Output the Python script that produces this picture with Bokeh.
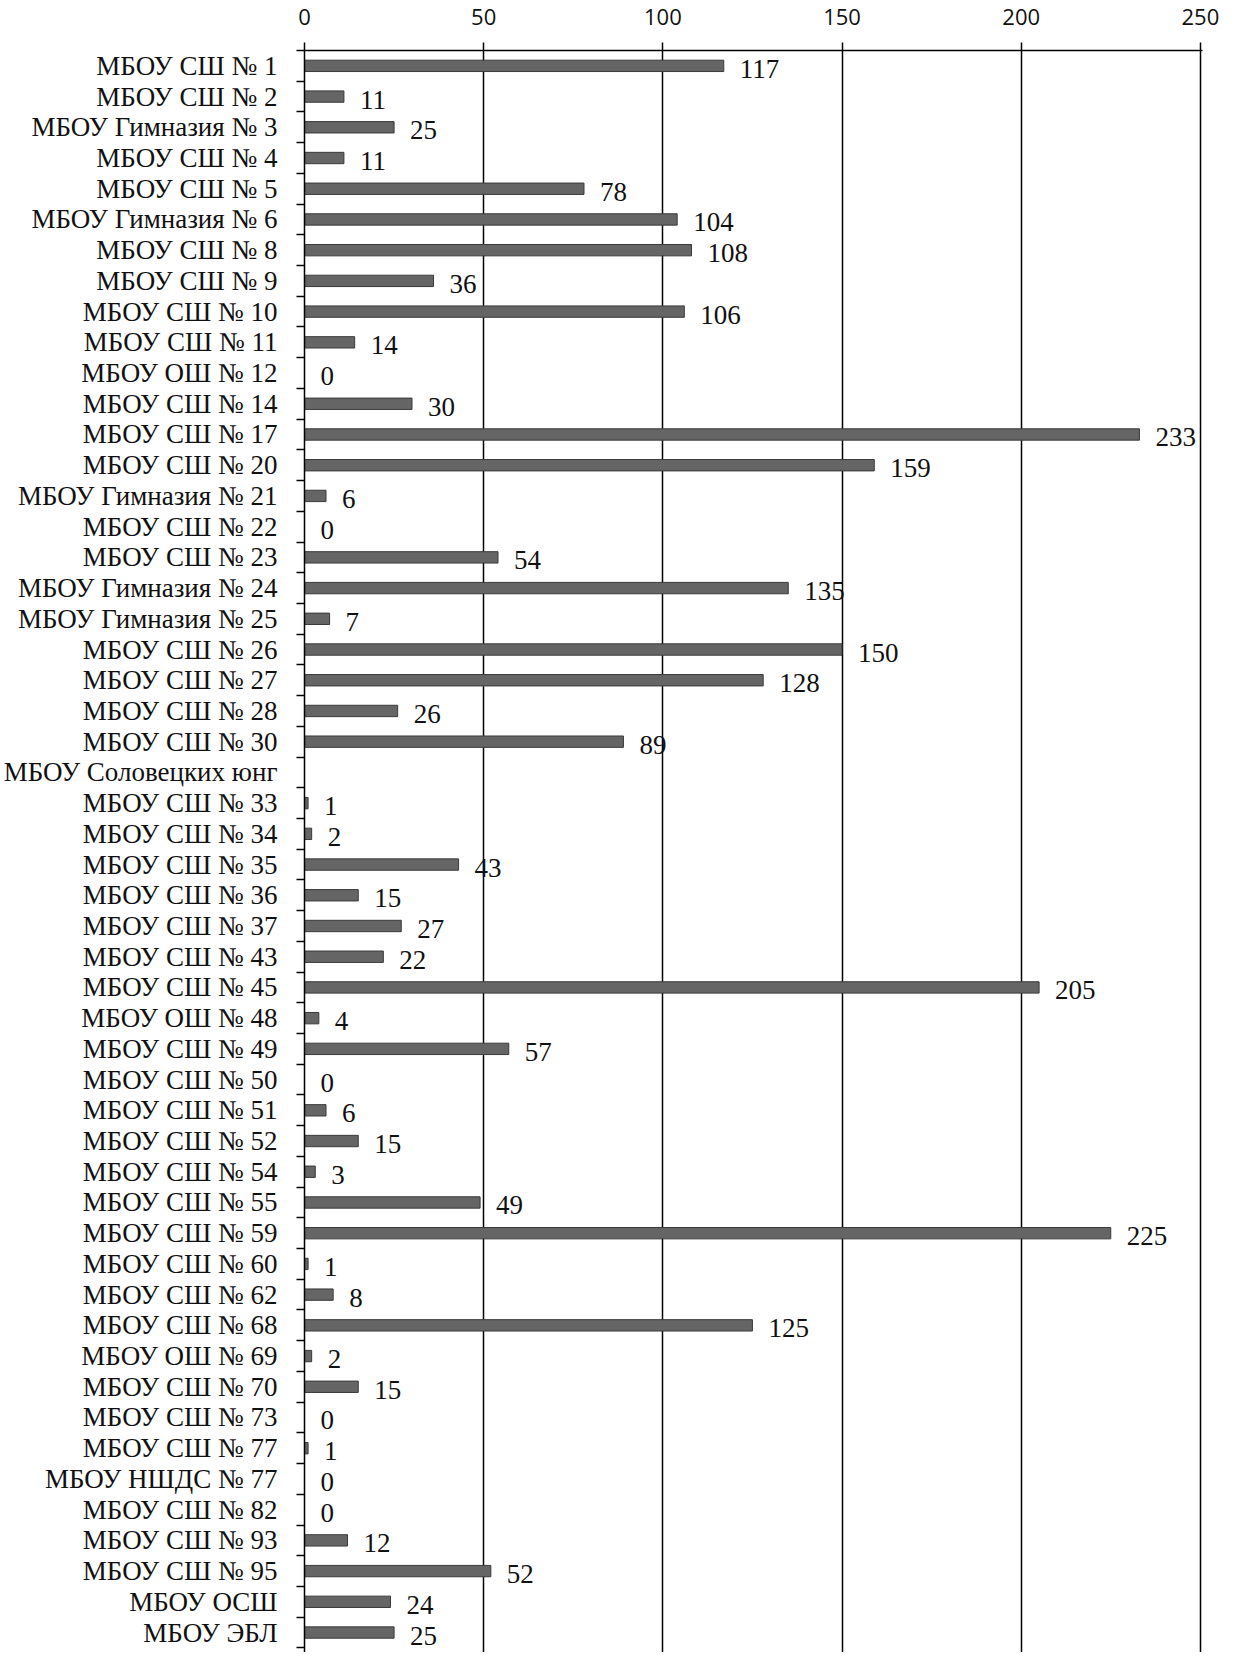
from bokeh.plotting import figure
from bokeh.models import Range1d, FixedTicker, LinearAxis, ColumnDataSource
from bokeh.embed import file_html
from bokeh.resources import INLINE
import math

schools = [
    "МБОУ СШ № 1", "МБОУ СШ № 2", "МБОУ Гимназия № 3", "МБОУ СШ № 4", "МБОУ СШ № 5",
    "МБОУ Гимназия № 6", "МБОУ СШ № 8", "МБОУ СШ № 9", "МБОУ СШ № 10", "МБОУ СШ № 11",
    "МБОУ ОШ № 12", "МБОУ СШ № 14", "МБОУ СШ № 17", "МБОУ СШ № 20", "МБОУ Гимназия № 21",
    "МБОУ СШ № 22", "МБОУ СШ № 23", "МБОУ Гимназия № 24", "МБОУ Гимназия № 25", "МБОУ СШ № 26",
    "МБОУ СШ № 27", "МБОУ СШ № 28", "МБОУ СШ № 30", "МБОУ Соловецких юнг", "МБОУ СШ № 33",
    "МБОУ СШ № 34", "МБОУ СШ № 35", "МБОУ СШ № 36", "МБОУ СШ № 37", "МБОУ СШ № 43",
    "МБОУ СШ № 45", "МБОУ ОШ № 48", "МБОУ СШ № 49", "МБОУ СШ № 50", "МБОУ СШ № 51",
    "МБОУ СШ № 52", "МБОУ СШ № 54", "МБОУ СШ № 55", "МБОУ СШ № 59", "МБОУ СШ № 60",
    "МБОУ СШ № 62", "МБОУ СШ № 68", "МБОУ ОШ № 69", "МБОУ СШ № 70", "МБОУ СШ № 73",
    "МБОУ СШ № 77", "МБОУ НШДС № 77", "МБОУ СШ № 82", "МБОУ СШ № 93", "МБОУ СШ № 95",
    "МБОУ ОСШ", "МБОУ ЭБЛ",
]

counts = [
    117, 11, 25, 11, 78,
    104, 108, 36, 106, 14,
    0, 30, 233, 159, 6,
    0, 54, 135, 7, 150,
    128, 26, 89, float("nan"), 1,
    2, 43, 15, 27, 22,
    205, 4, 57, 0, 6,
    15, 3, 49, 225, 1,
    8, 125, 2, 15, 0,
    1, 0, 0, 12, 52,
    24, 25,
]

x_ticks = [0, 50, 100, 150, 200, 250]

n = len(schools)
pos = list(range(n))

bar_src = ColumnDataSource(dict(y=pos, v=counts))
lab_y = [i for i, v in zip(pos, counts) if not math.isnan(v)]
lab_v = [v for v in counts if not math.isnan(v)]
lab_src = ColumnDataSource(dict(y=lab_y, v=lab_v, t=[str(int(v)) for v in lab_v]))

p = figure(width=1230, height=1652, output_backend="svg", toolbar_location=None,
           x_range=Range1d(0, 250.6), y_range=Range1d(n - 0.5 + 0.15, -0.5),
           x_axis_location=None, y_axis_location=None,
           min_border_left=298, min_border_right=28, min_border_top=50, min_border_bottom=0)
p.outline_line_color = None
p.background_fill_color = "white"
p.border_fill_color = "white"

xaxis = LinearAxis(ticker=FixedTicker(ticks=x_ticks))
xaxis.axis_line_color = "black"
xaxis.axis_line_width = 1.5
xaxis.major_tick_out = 8
xaxis.major_tick_in = 0
xaxis.major_tick_line_color = "black"
xaxis.major_tick_line_width = 1.5
xaxis.minor_tick_out = 0
xaxis.minor_tick_in = 0
xaxis.major_label_text_font = "Open Sans"
xaxis.major_label_text_font_size = "22px"
xaxis.major_label_text_color = "#111111"
xaxis.major_label_standoff = 18
p.add_layout(xaxis, "above")

yaxis = LinearAxis(ticker=FixedTicker(ticks=pos, minor_ticks=[i - 0.5 for i in range(n + 1)]))
yaxis.major_label_overrides = {i: s for i, s in enumerate(schools)}
yaxis.axis_line_color = "black"
yaxis.axis_line_width = 1.5
yaxis.major_tick_out = 0
yaxis.major_tick_in = 0
yaxis.minor_tick_out = 8
yaxis.minor_tick_in = 0
yaxis.minor_tick_line_color = "black"
yaxis.minor_tick_line_width = 1.5
yaxis.major_label_text_font = "Liberation Serif"
yaxis.major_label_text_font_size = "27px"
yaxis.major_label_text_color = "#111111"
yaxis.major_label_standoff = 19
p.add_layout(yaxis, "left")

p.xgrid.ticker = FixedTicker(ticks=x_ticks)
p.xgrid.grid_line_color = "black"
p.xgrid.grid_line_width = 1.5
p.ygrid.grid_line_color = None

p.hbar(y="y", left=0, right="v", height=0.37, source=bar_src,
       fill_color="#656565", line_color="#3a3a3a", line_width=1)

p.text(x="v", y="y", text="t", source=lab_src, x_offset=16, y_offset=3,
       text_font="Liberation Serif", text_font_size="27px", text_color="#111111",
       text_baseline="middle", text_align="left")

open("out.html", "w").write(file_html(p, INLINE))
